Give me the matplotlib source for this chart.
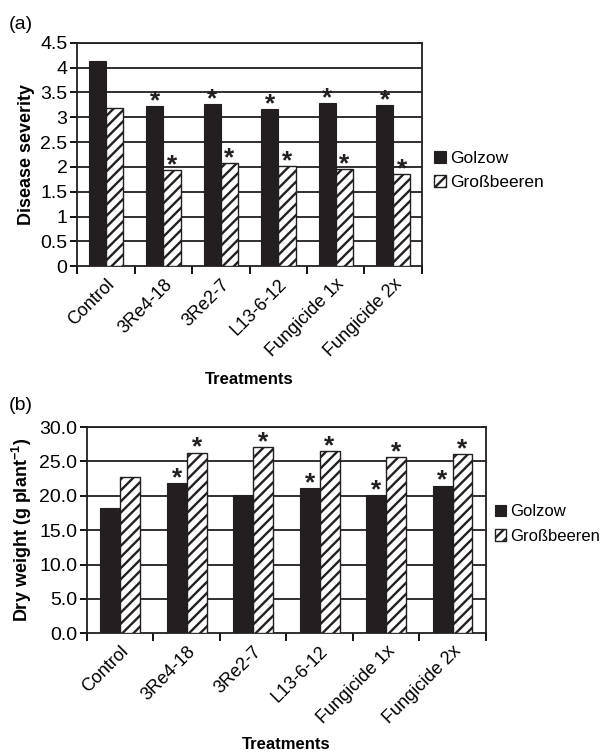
import matplotlib
matplotlib.use('Agg')
import matplotlib.pyplot as plt
import numpy as np

plt.rcParams['font.family'] = ['Liberation Sans', 'DejaVu Sans']
plt.rcParams['mathtext.fontset'] = 'custom'
plt.rcParams['mathtext.rm'] = 'Liberation Sans'
plt.rcParams['mathtext.bf'] = 'Liberation Sans:bold'
plt.rcParams['hatch.linewidth'] = 1.7

treatments = ['Control', '3Re4-18', '3Re2-7', 'L13-6-12', 'Fungicide 1x', 'Fungicide 2x']

# (a) disease severity
sev_golzow = [4.13, 3.22, 3.27, 3.17, 3.29, 3.25]
sev_gross = [3.19, 1.93, 2.08, 2.01, 1.95, 1.86]
sev_star_golzow = [False, True, True, True, True, True]
sev_star_gross = [False, True, True, True, True, True]

# (b) dry weight
dw_golzow = [18.2, 21.8, 20.1, 21.1, 20.1, 21.5]
dw_gross = [22.7, 26.3, 27.1, 26.5, 25.6, 26.1]
dw_star_golzow = [False, True, False, True, True, True]
dw_star_gross = [False, True, True, True, True, True]

dark = '#231f20'
fig = plt.figure(figsize=(6.08, 7.52), dpi=100)


def star(ax, x, y):
    # asterisk just above the bar top
    ax.annotate('*', (x, y), xytext=(0, -1.5), textcoords='offset points', ha='center',
                va='baseline', fontsize=19, fontweight='bold', color=dark, zorder=4)


def panel(ax, golzow, gross, star_g, star_b, ymax, step, fmt, ylabel, xlab_y):
    x = np.arange(len(treatments))
    w = 0.3
    ax.bar(x - w / 2, golzow, w, color=dark, edgecolor=dark, lw=0.8, label='Golzow', zorder=3)
    ax.bar(x + w / 2, gross, w, color='white', edgecolor=dark, hatch='///', lw=1.0,
           label='Großbeeren', zorder=3)
    for i in range(len(x)):
        if star_g[i]:
            star(ax, x[i] - w / 2, golzow[i])
        if star_b[i]:
            star(ax, x[i] + w / 2, gross[i])
    ax.set_xlim(-0.5, len(x) - 0.5)
    ax.set_ylim(0, ymax)
    yt = np.arange(0, ymax + step / 2, step)
    ax.set_yticks(yt)
    ax.set_yticklabels([fmt(v) for v in yt], fontsize=14)
    for v in yt[1:]:
        ax.axhline(v, color=dark, lw=1.3, zorder=1)
    ax.set_xticks(np.arange(-0.5, len(x)), minor=False)
    ax.set_xticklabels([])
    ax.set_xticks(x, minor=True)
    ax.set_xticklabels(treatments, minor=True, rotation=45, ha='right',
                       rotation_mode='anchor', fontsize=13)
    ax.tick_params(axis='x', which='minor', length=0, pad=7)
    ax.tick_params(axis='x', which='major', length=6, width=1.3, direction='out')
    ax.tick_params(axis='y', length=5, width=1.3, direction='out', pad=2)
    for s in ax.spines.values():
        s.set_linewidth(1.3)
        s.set_color(dark)
    ax.set_ylabel(ylabel, fontsize=13, fontweight='bold', labelpad=4)
    ax.set_xlabel('Treatments', fontsize=12, fontweight='bold')
    ax.xaxis.set_label_coords(0.5, xlab_y)


ax1 = fig.add_axes([0.127, 0.646, 0.567, 0.297])
panel(ax1, sev_golzow, sev_gross, sev_star_golzow, sev_star_gross, 4.5, 0.5,
      lambda v: f'{v:g}', 'Disease severity', -0.475)
ax1.legend(loc='center left', bbox_to_anchor=(0.99, 0.43), frameon=False, fontsize=12.5,
           handlelength=0.7, handleheight=0.7, handletextpad=0.25, labelspacing=0.5)

ax2 = fig.add_axes([0.143, 0.158, 0.656, 0.274])
panel(ax2, dw_golzow, dw_gross, dw_star_golzow, dw_star_gross, 30, 5,
      lambda v: f'{v:.1f}', r'Dry weight (g plant$^{\mathbf{-1}}$)', -0.505)
ax2.legend(loc='center left', bbox_to_anchor=(0.985, 0.53), frameon=False, fontsize=12,
           handlelength=0.7, handleheight=0.7, handletextpad=0.2, labelspacing=0.55)

fig.text(0.015, 0.962, '(a)', fontsize=14)
fig.text(0.015, 0.455, '(b)', fontsize=14)

fig.savefig('out.png', dpi=100)
